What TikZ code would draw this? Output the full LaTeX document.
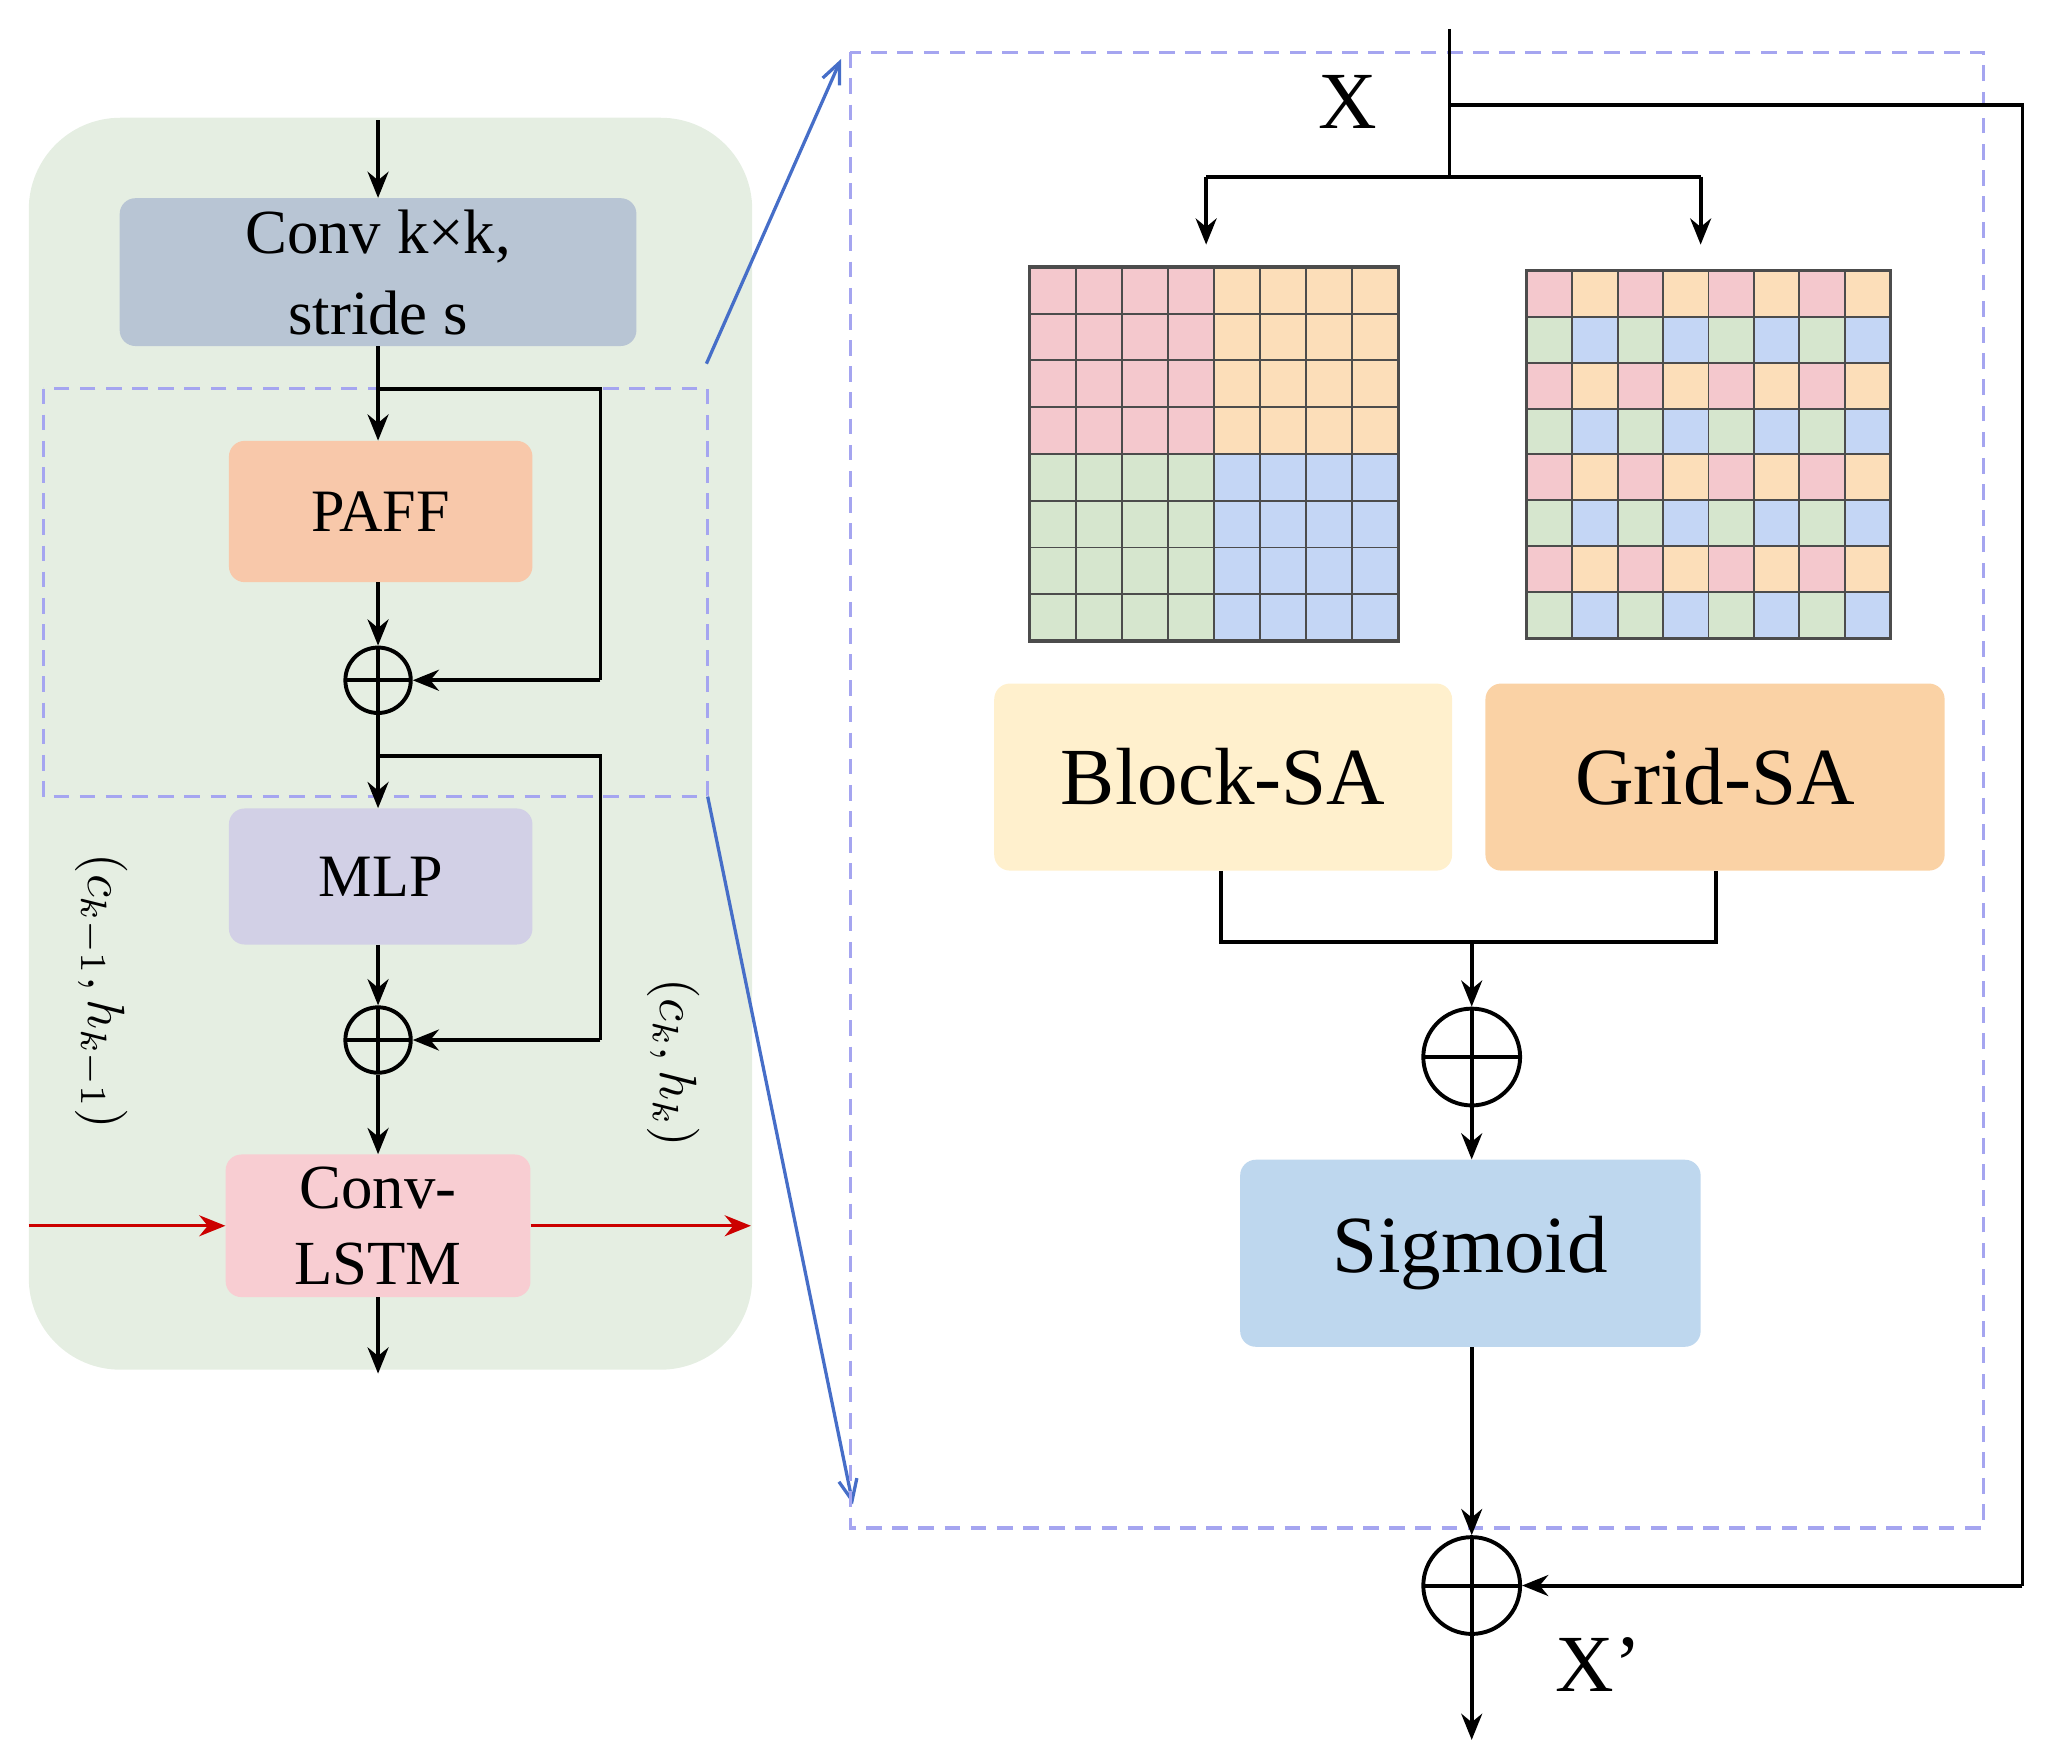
\documentclass[tikz,border=0pt]{standalone}
\usepackage{fontspec}
\setmainfont{Liberation Serif}
\usetikzlibrary{arrows.meta}
\definecolor{pk}{RGB}{244,200,205}
\definecolor{og}{RGB}{252,222,185}
\definecolor{gr}{RGB}{214,230,206}
\definecolor{bl}{RGB}{196,214,245}
\definecolor{dash}{RGB}{165,165,240}
\definecolor{lnk}{RGB}{70,110,200}
\begin{document}
\begin{tikzpicture}[x=1pt,y=-1pt,
 box/.style={rounded corners=12pt,draw=none,align=center,inner sep=0},
 ln/.style={line width=3pt,-{Stealth[length=20pt,width=16pt]}},
 pl/.style={line width=3pt},
 op/.style={circle,draw,line width=3pt,minimum size=#1,inner sep=0,path picture={\draw[line width=3pt] (path picture bounding box.north)--(path picture bounding box.south) (path picture bounding box.west)--(path picture bounding box.east);}},
 dsh/.style={draw=dash,dashed,line width=2.5pt,dash pattern=on 12pt off 8pt}]
\useasboundingbox (0,0) rectangle (1564,1342);
\fill[rounded corners=70pt,fill={rgb,255:red,229;green,238;blue,226}] (22,90) rectangle (575,1047);
\node[box,fill={rgb,255:red,184;green,197;blue,212},minimum width=395pt,minimum height=113pt,font=\fontsize{48}{62}\selectfont] (conv) at (289,208) {Conv k×k,\\stride s};
\node[box,fill={rgb,255:red,248;green,200;blue,170},minimum width=232pt,minimum height=108pt,font=\fontsize{46}{48}\selectfont] (paff) at (291,391) {PAFF};
\node[op=50pt] (o1) at (289,520) {};
\node[box,fill={rgb,255:red,210;green,208;blue,230},minimum width=232pt,minimum height=104pt,font=\fontsize{46}{48}\selectfont] (mlp) at (291,670) {MLP};
\node[op=50pt] (o2) at (289,795) {};
\node[box,fill={rgb,255:red,248;green,205;blue,210},minimum width=233pt,minimum height=109pt,font=\fontsize{48}{58}\selectfont] (lstm) at (289,937) {Conv-\\LSTM};
\draw[dsh] (33,297) rectangle (541,609);
\coordinate (t0) at (289,92);
\draw[ln] (t0) -- (conv.north);
\draw[ln] (conv.south) -- (paff.north -| conv.south);
\draw[pl] (289,297) -- (459,297) -- (459,520);
\draw[ln] (459,520) -- (o1.east);
\draw[ln] (paff.south -| o1) -- (o1.north);
\draw[ln] (o1.south) -- (mlp.north -| o1);
\draw[pl] (289,578) -- (459,578) -- (459,795);
\draw[ln] (459,795) -- (o2.east);
\draw[ln] (mlp.south -| o2) -- (o2.north);
\draw[ln] (o2.south) -- (lstm.north);
\coordinate (b0) at (289,1050);
\draw[ln] (lstm.south) -- (b0);
\coordinate (rl) at (22,937); \coordinate (rr) at (574,937);
\draw[ln,red!80!black,line width=2.5pt] (rl) -- (lstm.west);
\draw[ln,red!80!black,line width=2.5pt] (lstm.east) -- (rr);
\node[rotate=-90] (lab1) at (78,758) {\scalebox{4}{$(c_{k-1},h_{k-1})$}};
\node[rotate=-90] (lab2) at (515,812) {\scalebox{4}{$(c_k,h_k)$}};
% zoom links
\coordinate (z1) at (540,278); \coordinate (z2) at (643,45);
\coordinate (z3) at (541,609); \coordinate (z4) at (652,1150);
\draw[lnk,line width=2.5pt,-{Straight Barb[length=16pt,width=14pt]}] (z1) -- (z2);
\draw[lnk,line width=2.5pt,-{Straight Barb[length=16pt,width=14pt]}] (z3) -- (z4);
\draw[dsh] (650,40) rectangle (1516,1168);
% right
\node[font=\fontsize{62}{64}\selectfont] (X) at (1030,78) {X};
\coordinate (xt) at (1108,22);
\draw[pl] (xt) -- (1108,135);
\draw[pl] (922,135) -- (1300,135);
\coordinate (ga) at (922,187); \coordinate (gb) at (1300,187);
\draw[ln] (922,135) -- (ga); \draw[ln] (1300,135) -- (gb);
% grids
\foreach \i in {0,...,7}{\foreach \j in {0,...,7}{
 \pgfmathsetmacro{\q}{(\i<4?0:1)+(\j<4?0:2)}
 \ifcase\q\relax \def\c{pk}\or\def\c{og}\or\def\c{gr}\or\def\c{bl}\fi
 \fill[\c,draw=black!70,line width=1.5pt] (787+35.25*\i,204+35.75*\j) rectangle ++(35.25,35.75);
 \pgfmathtruncatemacro{\r}{mod(\i,2)+2*mod(\j,2)}
 \ifcase\r\relax \def\c{pk}\or\def\c{og}\or\def\c{gr}\or\def\c{bl}\fi
 \fill[\c,draw=black!70,line width=1.5pt] (1167+34.75*\i,207+35.1*\j) rectangle ++(34.75,35.1);
}}
\draw[black!70,line width=2.5pt] (787,204) rectangle (1069,490);
\draw[black!70,line width=2.5pt] (1167,207) rectangle (1445,488);
\node[box,fill={rgb,255:red,255;green,240;blue,205},minimum width=350pt,minimum height=143pt,font=\fontsize{62}{64}\selectfont] (bsa) at (935,594) {Block-SA};
\node[box,fill={rgb,255:red,250;green,210;blue,165},minimum width=351pt,minimum height=143pt,font=\fontsize{62}{64}\selectfont] (gsa) at (1311,594) {Grid-SA};
\node[op=74pt] (o3) at (1125,808) {};
\node[box,fill={rgb,255:red,190;green,215;blue,238},minimum width=352pt,minimum height=143pt,font=\fontsize{62}{64}\selectfont] (sig) at (1124,958) {Sigmoid};
\node[op=74pt] (o4) at (1125,1212) {};
\draw[pl] (bsa.south -| 933,0) -- (933,720) -- (1312,720) -- (gsa.south -| 1312,0);
\draw[ln] (1125,720) -- (o3.north);
\draw[ln] (o3.south) -- (sig.north -| o3);
\draw[ln] (sig.south -| o4) -- (o4.north);
\draw[pl] (1108,80) -- (1546,80) -- (1546,1212);
\draw[ln] (1546,1212) -- (o4.east);
\coordinate (xe) at (1125,1330);
\draw[ln] (o4.south) -- (xe);
\node[font=\fontsize{62}{64}\selectfont] (Xp) at (1222,1272) {X'};
\end{tikzpicture}
\end{document}
